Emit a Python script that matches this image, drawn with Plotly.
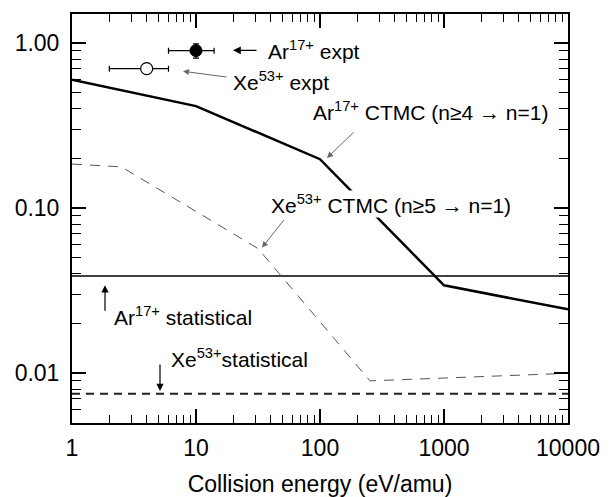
import plotly.graph_objects as go
import numpy as np

# Data
ar_ctmc_x = [1, 10, 100, 1000, 10000]
ar_ctmc_y = [0.60, 0.415, 0.198, 0.0341, 0.0244]

xe_ctmc_x = [1, 2.5, 31.6, 253, 10000]
xe_ctmc_y = [0.185, 0.178, 0.057, 0.0090, 0.0100]

stat_x = [1, 10000]
ar_stat_y = [0.0388, 0.0388]
xe_stat_y = [0.00753, 0.00753]

ar_expt_x = [10]
ar_expt_y = [0.90]
ar_expt_xerr = [4]
ar_expt_yerr = [0.09]

xe_expt_x = [4]
xe_expt_y = [0.70]
xe_expt_xerr = [2]

x_major = [1, 10, 100, 1000, 10000]
x_labels = ["1", "10", "100", "1000", "10000"]
y_major = [0.01, 0.1, 1.0]
y_labels = ["0.01", "0.10", "1.00"]

FONT = "Liberation Sans, Arial, Helvetica, sans-serif"

fig = go.Figure()
fig.add_trace(go.Scatter(x=stat_x, y=ar_stat_y, mode="lines",
                         line=dict(color="black", width=1.5), showlegend=False))
fig.add_trace(go.Scatter(x=stat_x, y=xe_stat_y, mode="lines",
                         line=dict(color="#222", width=2, dash="8px,6px"), showlegend=False))
fig.add_trace(go.Scatter(x=xe_ctmc_x, y=xe_ctmc_y, mode="lines",
                         line=dict(color="#555", width=1, dash="10px,8px"), showlegend=False))
fig.add_trace(go.Scatter(x=ar_ctmc_x, y=ar_ctmc_y, mode="lines",
                         line=dict(color="black", width=2.5), showlegend=False))
fig.add_trace(go.Scatter(x=ar_expt_x, y=ar_expt_y, mode="markers",
                         marker=dict(color="black", size=12, line=dict(color="black", width=1)),
                         error_x=dict(type="data", array=ar_expt_xerr, color="black", thickness=1.2, width=3),
                         error_y=dict(type="data", array=ar_expt_yerr, color="black", thickness=1.2, width=3),
                         showlegend=False))
fig.add_trace(go.Scatter(x=xe_expt_x, y=xe_expt_y, mode="markers",
                         marker=dict(color="white", size=12, line=dict(color="black", width=1.2)),
                         error_x=dict(type="data", array=xe_expt_xerr, color="black", thickness=1.2, width=3),
                         showlegend=False))

def lx(px):
    return (px - 72) / 124.0

def ly(py):
    return (41.7 - py) / 165.8

texts = [
    ("Ar<sup>17+</sup> expt", 267, 49, None),
    ("Xe<sup>53+</sup> expt", 232, 80, None),
    ("Ar<sup>17+</sup> CTMC (n≥4 → n=1)", 312, 110, None),
    ("Xe<sup>53+</sup> CTMC (n≥5 → n=1)", 270, 203, "white"),
    ("Ar<sup>17+</sup> statistical", 113, 316, None),
    ("Xe<sup>53+</sup>statistical", 170, 358, None),
]
for t, px, py, bg in texts:
    fig.add_annotation(x=lx(px), y=ly(py), xref="x", yref="y", text=t, showarrow=False,
                       xanchor="left", yanchor="middle", font=dict(family=FONT, size=21, color="black"),
                       bgcolor=bg if bg else "rgba(0,0,0,0)", borderpad=0)

arrows = [
    (258, 49, 233, 49, "black", 1.3),
    (228, 76, 183, 70, "#666", 1),
    (355, 130, 327, 157, "#666", 1),
    (285, 218, 262, 247, "#666", 1),
    (105, 312, 105, 285, "black", 1.2),
    (160, 363, 160, 391, "black", 1.2),
]
for tx, ty, hx, hy, col, w in arrows:
    fig.add_annotation(x=lx(hx), y=ly(hy), ax=lx(tx), ay=ly(ty), xref="x", yref="y",
                       axref="x", ayref="y", text="", showarrow=True, arrowhead=2,
                       arrowsize=1.2, arrowwidth=w, arrowcolor=col)

def minor_vals(lo, hi):
    vals = []
    d = lo
    while d < hi:
        for k in range(2, 10):
            vals.append(k * d)
        d *= 10
    return vals

axis_common = dict(showline=True, linewidth=2, linecolor="black", mirror="ticks",
                   ticks="inside", ticklen=14, tickwidth=1.5, tickcolor="black",
                   showgrid=False, zeroline=False, tickmode="array",
                   tickfont=dict(family=FONT, size=23, color="black"))

fig.update_xaxes(type="log", range=[0, 4], tickvals=x_major, ticktext=x_labels,
                 minor=dict(ticks="inside", ticklen=8, tickwidth=1.2, tickcolor="black",
                            tickmode="array", tickvals=minor_vals(1, 10000), showgrid=False),
                 title=dict(text="Collision energy (eV/amu)", font=dict(family=FONT, size=23, color="black"),
                            standoff=16),
                 ticklabelstandoff=3, **axis_common)
fig.update_yaxes(type="log", range=[np.log10(0.005), np.log10(1.5)], tickvals=y_major, ticktext=y_labels,
                 minor=dict(ticks="inside", ticklen=9, tickwidth=1.2, tickcolor="black",
                            tickmode="array", tickvals=minor_vals(0.001, 1), showgrid=False),
                 ticklabelstandoff=6, **axis_common)

# page body has an 8px margin; compensate so the plot area lands where the reference has it
fig.update_layout(width=602, height=489, margin=dict(l=64, r=42, t=4, b=74),
                  plot_bgcolor="white", paper_bgcolor="white",
                  font=dict(family=FONT, color="black"))

fig.write_html("out.html")
